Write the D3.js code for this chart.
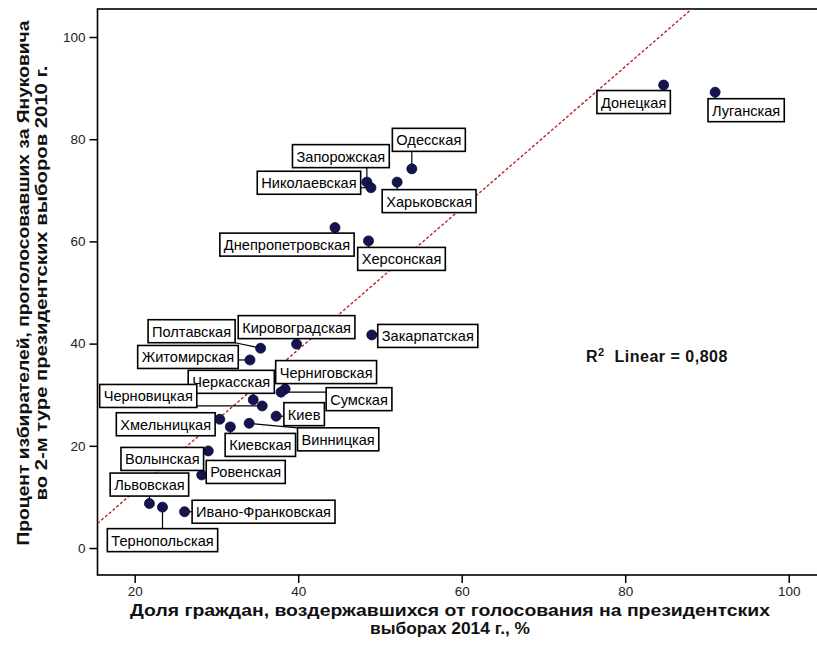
<!DOCTYPE html>
<html>
<head>
<meta charset="utf-8">
<script src="https://cdn.jsdelivr.net/npm/d3@7/dist/d3.min.js"></script>
<style>
  html, body { margin: 0; padding: 0; background: #fff; }
  svg { display: block; font-family: Arial, "Liberation Sans", sans-serif; }
</style>
</head>
<body>
<svg id="chart" width="817" height="659"></svg>
<script>
// ---- data ----
const regions = ["Донецкая","Луганская","Одесская","Запорожская","Николаевская","Харьковская",
  "Днепропетровская","Херсонская","Закарпатская","Кировоградская","Полтавская","Житомирская",
  "Черниговская","Сумская","Черкасская","Черновицкая","Киев","Винницкая","Хмельницкая",
  "Киевская","Волынская","Ровенская","Львовская","Тернопольская","Ивано-Франковская"];
// share of abstained citizens, 2014 (%)
const abstained2014 = [84.7, 91.0, 53.9, 48.4, 48.9, 52.1, 44.5, 48.6, 49.0, 39.8, 35.4, 34.1,
  38.4, 37.9, 34.5, 35.6, 37.3, 34.0, 30.4, 31.7, 29.0, 28.2, 21.8, 23.4, 26.1];
// % voted for Yanukovych, 2nd round 2010
const yanukovych2010 = [90.6, 89.2, 74.2, 71.6, 70.5, 71.6, 62.7, 60.1, 41.7, 39.9, 39.1, 36.8,
  31.1, 30.5, 29.0, 27.8, 25.8, 24.4, 25.2, 23.7, 19.0, 14.3, 8.7, 8.0, 7.1];
const xTicks = [20, 40, 60, 80, 100];
const yTicks = [0, 20, 40, 60, 80, 100];
// linear fit
const fitIntercept = -16.6;
const fitSlope = 1.385;
const r2Text = "0,808";

// ---- layout (label box offsets from the point, px) ----
const labelOffsets = [[-30,17],[31,18],[17,-29],[-26,-26],[-62,-5],[32,19],[-48,17],[33,18],
  [56,1],[0,-17],[-69,-17],[-62,-3],[41,-17],[78,7],[-22,-18],[-114,-10],[28,-2],[89,16],
  [-54,5],[30,18],[-46,8],[44,-3],[0,-19],[0,33],[79,0]];

const svg = d3.select("#chart");
const L = 97.5, T = 9, B = 575, R = 830;
const x = d3.scaleLinear().domain([15.45, 105.05]).range([L, R]);
const y = d3.scaleLinear().domain([-5.28, 105.48]).range([B, T]);

// frame
svg.append("rect").attr("x", L).attr("y", T).attr("width", R - L).attr("height", B - T)
  .attr("fill", "none").attr("stroke", "#000").attr("stroke-width", 1.6);

// axes
const xAxis = svg.append("g").attr("transform", `translate(0,${B})`)
  .call(d3.axisBottom(x).tickValues(xTicks).tickSize(8).tickPadding(3).tickFormat(d3.format("d")));
const yAxis = svg.append("g").attr("transform", `translate(${L},0)`)
  .call(d3.axisLeft(y).tickValues(yTicks).tickSize(8).tickPadding(4).tickFormat(d3.format("d")));
[xAxis, yAxis].forEach(g => {
  g.select(".domain").remove();
  g.selectAll(".tick line").attr("stroke", "#000").attr("stroke-width", 1.5);
  g.selectAll(".tick text").attr("fill", "#222").style("font-size", "13.5px")
    .style("font-family", "Arial, 'Liberation Sans', sans-serif");
});

// clip
svg.append("clipPath").attr("id", "clip").append("rect")
  .attr("x", L).attr("y", T).attr("width", R - L).attr("height", B - T);

// fit line
const fx0 = 15.45, fx1 = 105;
svg.append("line").attr("clip-path", "url(#clip)")
  .attr("x1", x(fx0)).attr("y1", y(fitIntercept + fitSlope * fx0))
  .attr("x2", x(fx1)).attr("y2", y(fitIntercept + fitSlope * fx1))
  .attr("stroke", "#b5262a").attr("stroke-width", 1.4).attr("stroke-dasharray", "3,2");

// points data
const pts = regions.map((name, i) => ({
  name, px: x(abstained2014[i]), py: y(yanukovych2010[i]),
  cx: x(abstained2014[i]) + labelOffsets[i][0], cy: y(yanukovych2010[i]) + labelOffsets[i][1]
}));

// measure label text
const FS = "14.6px";
const tmp = svg.append("text").style("font-size", FS);
pts.forEach(p => { tmp.text(p.name); p.w = tmp.node().getComputedTextLength() + 8; p.h = 23; });
tmp.remove();

// connectors
svg.append("g").selectAll("line").data(pts).join("line")
  .attr("x1", d => d.px).attr("y1", d => d.py)
  .attr("x2", d => Math.max(d.cx - d.w / 2, Math.min(d.px, d.cx + d.w / 2)))
  .attr("y2", d => Math.max(d.cy - d.h / 2, Math.min(d.py, d.cy + d.h / 2)))
  .attr("stroke", "#000").attr("stroke-width", 1.2);

// points
svg.append("g").selectAll("circle").data(pts).join("circle")
  .attr("cx", d => d.px).attr("cy", d => d.py).attr("r", 5)
  .attr("fill", "#141450").attr("stroke", "#0a0a35").attr("stroke-width", 0.8);

// labels
const lg = svg.append("g").selectAll("g").data(pts).join("g");
lg.append("rect")
  .attr("x", d => d.cx - d.w / 2).attr("y", d => d.cy - d.h / 2)
  .attr("width", d => d.w).attr("height", d => d.h)
  .attr("fill", "#fff").attr("stroke", "#000").attr("stroke-width", 1.6);
lg.append("text").attr("x", d => d.cx).attr("y", d => d.cy + 5.5)
  .attr("text-anchor", "middle").style("font-size", FS).attr("fill", "#000")
  .text(d => d.name);

// R2 text
const r2 = svg.append("text").attr("x", 586).attr("y", 362)
  .style("font-size", "16px").style("font-weight", "bold").style("letter-spacing", "0.5px")
  .attr("fill", "#111");
r2.append("tspan").text("R");
r2.append("tspan").attr("dy", -6).style("font-size", "11px").text("2");
r2.append("tspan").attr("dy", 6).text("\u00a0 Linear = " + r2Text);

// axis titles
svg.append("text").attr("x", 450).attr("y", 616).attr("text-anchor", "middle")
  .style("font-size", "16px").style("font-weight", "bold").attr("fill", "#111")
  .attr("textLength", 640).attr("lengthAdjust", "spacingAndGlyphs")
  .text("Доля граждан, воздержавшихся от голосования на президентских");
svg.append("text").attr("x", 450).attr("y", 634).attr("text-anchor", "middle")
  .style("font-size", "16px").style("font-weight", "bold").attr("fill", "#111")
  .attr("textLength", 160).attr("lengthAdjust", "spacingAndGlyphs")
  .text("выборах 2014 г., %");

svg.append("text").attr("transform", "translate(29,283) rotate(-90)").attr("text-anchor", "middle")
  .style("font-size", "16px").style("font-weight", "bold").attr("fill", "#111")
  .attr("textLength", 525).attr("lengthAdjust", "spacingAndGlyphs")
  .text("Процент избирателей, проголосовавших за Януковича");
svg.append("text").attr("transform", "translate(47,283) rotate(-90)").attr("text-anchor", "middle")
  .style("font-size", "16px").style("font-weight", "bold").attr("fill", "#111")
  .attr("textLength", 435).attr("lengthAdjust", "spacingAndGlyphs")
  .text("во 2-м туре президентских выборов 2010 г.");
</script>
</body>
</html>
